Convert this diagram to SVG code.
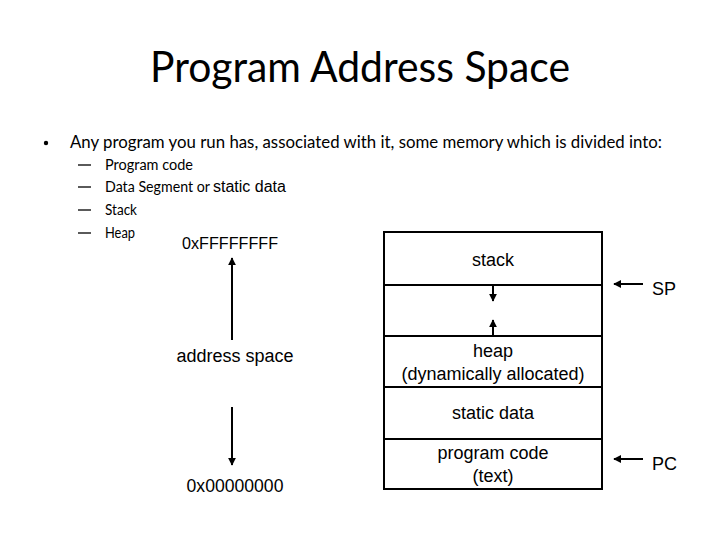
<svg xmlns="http://www.w3.org/2000/svg" width="720" height="540" viewBox="0 0 720 540">
<style>
.cal{font-family:Lato,"Open Sans","Liberation Sans",sans-serif;fill:#000}
.ar{font-family:"Liberation Sans",Arial,sans-serif;fill:#000}
.ln{stroke:#000;stroke-width:2;fill:none}
</style>
<defs>
<marker id="ah" viewBox="0 0 10 10" refX="9" refY="5" markerWidth="4" markerHeight="4" orient="auto" markerUnits="strokeWidth">
<path d="M0,0 L10,5 L0,10 z" fill="#000"/>
</marker>
</defs>
<rect width="720" height="540" fill="#fff"/>
<g id="title">
<text class="cal" x="150" y="82" font-size="42" textLength="420" lengthAdjust="spacingAndGlyphs">Program Address Space</text>
</g>
<g id="bullets">
<circle cx="46" cy="143" r="2.2" fill="#000"/>
<text class="cal" x="70" y="148" font-size="18" textLength="592" lengthAdjust="spacingAndGlyphs">Any program you run has, associated with it, some memory which is divided into:</text>
<g stroke="#000" stroke-width="1.3">
<line x1="78" y1="165" x2="91" y2="165"/>
<line x1="78" y1="187" x2="91" y2="187"/>
<line x1="78" y1="210" x2="91" y2="210"/>
<line x1="78" y1="233" x2="91" y2="233"/>
</g>
<text class="cal" x="105" y="170" font-size="14.5" textLength="88" lengthAdjust="spacingAndGlyphs">Program code</text>
<text class="cal" x="105" y="192" font-size="14.5" textLength="105" lengthAdjust="spacingAndGlyphs">Data Segment or</text>
<text class="ar" x="213" y="192" font-size="16">static data</text>
<text class="cal" x="105" y="215" font-size="14.5" textLength="32" lengthAdjust="spacingAndGlyphs">Stack</text>
<text class="cal" x="105" y="238" font-size="14.5" textLength="30" lengthAdjust="spacingAndGlyphs">Heap</text>
</g>
<g id="address-range">
<text class="ar" x="182" y="249" font-size="17" textLength="96" lengthAdjust="spacingAndGlyphs">0xFFFFFFFF</text>
<text class="ar" x="235" y="362" font-size="18" text-anchor="middle">address space</text>
<text class="ar" x="235" y="492" font-size="17.6" text-anchor="middle">0x00000000</text>
</g>
<g id="memory-box">
<rect x="384" y="232" width="218" height="257" class="ln"/>
<line x1="384" y1="285" x2="602" y2="285" class="ln"/>
<line x1="384" y1="336" x2="602" y2="336" class="ln"/>
<line x1="384" y1="387" x2="602" y2="387" class="ln"/>
<line x1="384" y1="439" x2="602" y2="439" class="ln"/>
<text class="ar" x="493" y="266" font-size="18" text-anchor="middle">stack</text>
<text class="ar" x="493" y="357" font-size="18" text-anchor="middle">heap</text>
<text class="ar" x="493" y="380" font-size="18" text-anchor="middle">(dynamically allocated)</text>
<text class="ar" x="493" y="419" font-size="18" text-anchor="middle">static data</text>
<text class="ar" x="493" y="459" font-size="18" text-anchor="middle">program code</text>
<text class="ar" x="493" y="482" font-size="18" text-anchor="middle">(text)</text>
</g>
<g id="pointers">
<text class="ar" x="652" y="295" font-size="18">SP</text>
<text class="ar" x="652" y="470" font-size="18">PC</text>
</g>
<g id="connectors">
<line x1="232" y1="340" x2="232" y2="258" class="ln" marker-end="url(#ah)"/>
<line x1="232" y1="407" x2="232" y2="465" class="ln" marker-end="url(#ah)"/>
<line x1="493" y1="286" x2="493" y2="301" class="ln" marker-end="url(#ah)"/>
<line x1="493" y1="335" x2="493" y2="320" class="ln" marker-end="url(#ah)"/>
<line x1="643" y1="284" x2="614" y2="284" class="ln" marker-end="url(#ah)"/>
<line x1="643" y1="459" x2="614" y2="459" class="ln" marker-end="url(#ah)"/>
</g>
</svg>
